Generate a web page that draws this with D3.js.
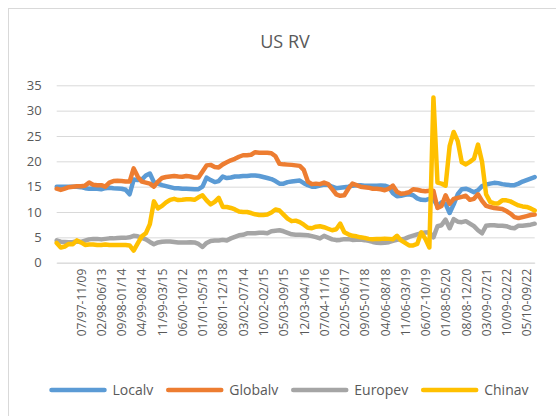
<!DOCTYPE html>
<html>
<head>
<meta charset="utf-8">
<script src="https://cdn.jsdelivr.net/npm/d3@7"></script>
<style>
  body { margin: 0; background: #fff; }
  svg { display: block; }
</style>
</head>
<body>
<svg id="chart"></svg>
<script>
// values, one per ~1.4 months
const localv = [
  15.0, 15.0, 15.0, 15.0, 15.0, 15.0, 14.9, 14.7, 14.6, 14.65,
  14.6, 14.5, 14.7, 14.8, 14.7, 14.65, 14.6, 14.4, 13.5, 16.4,
  16.3, 16.4, 17.2, 17.6, 15.9, 15.6, 15.3, 15.1, 14.9, 14.7,
  14.7, 14.6, 14.6, 14.55, 14.5, 14.5, 15.0, 16.8, 16.3, 15.9,
  16.1, 17.0, 16.7, 16.8, 17.0, 17.0, 17.1, 17.1, 17.2, 17.2,
  17.1, 16.9, 16.7, 16.5, 16.1, 15.6, 15.6, 15.9, 16.0, 16.1,
  16.2, 15.7, 15.3, 15.0, 15.0, 15.2, 15.4, 15.4, 15.0, 14.7,
  14.8, 14.9, 15.0, 15.2, 15.3, 15.3, 15.2, 15.2, 15.2, 15.2,
  15.25, 15.2, 14.9, 13.7, 13.1, 13.2, 13.4, 13.5, 13.3, 12.7,
  12.4, 12.35, 12.6, 12.5, 11.2, 11.9, 11.6, 9.8, 11.5, 13.5,
  14.5, 14.6, 14.3, 13.9, 14.3, 15.1, 15.4, 15.6, 15.75, 15.7,
  15.5, 15.4, 15.3, 15.3, 15.6, 16.0, 16.3, 16.6, 16.9
];
const globalv = [
  14.6, 14.35, 14.6, 14.9, 15.0, 15.1, 15.1, 15.2, 15.8, 15.4,
  15.3, 15.3, 15.0, 15.8, 16.1, 16.15, 16.1, 16.0, 16.0, 18.6,
  17.0, 16.0, 15.8, 15.6, 15.0, 16.0, 16.7, 16.9, 17.0, 17.1,
  17.0, 16.95, 17.1, 17.0, 16.8, 16.8, 18.0, 19.2, 19.3, 18.9,
  18.8, 19.4, 19.8, 20.2, 20.5, 20.9, 21.2, 21.2, 21.3, 21.8,
  21.7, 21.7, 21.7, 21.6, 21.0, 19.5, 19.4, 19.35, 19.3, 19.2,
  19.1, 18.3, 16.0, 15.5, 15.6, 15.5, 15.8, 15.5, 14.5, 13.5,
  13.2, 13.3, 14.6, 15.6, 15.3, 15.0, 14.9, 14.8, 14.6, 14.6,
  14.5, 14.3, 14.6, 15.2, 14.0, 13.6, 13.7, 13.9, 14.5, 14.4,
  14.2, 14.1, 14.2, 14.2, 10.8, 11.2, 13.3, 11.6, 12.6, 12.8,
  13.0, 13.2, 12.4, 12.6, 13.5, 12.2, 11.2, 11.0, 10.8, 10.7,
  10.6, 10.2, 9.7, 9.0, 8.8, 9.0, 9.2, 9.4, 9.5
];
const europev = [
  4.4, 4.15, 4.1, 4.05, 4.1, 4.2, 4.1, 4.35, 4.6, 4.7,
  4.7, 4.6, 4.7, 4.8, 4.8, 4.85, 4.9, 4.9, 5.0, 5.3,
  5.2, 4.9, 4.6, 4.1, 3.65, 4.0, 4.15, 4.2, 4.2, 4.1,
  4.0, 4.0, 4.0, 4.05, 4.0, 3.7, 3.1, 3.9, 4.3, 4.4,
  4.4, 4.5, 4.4, 4.8, 5.1, 5.4, 5.5, 5.8, 5.8, 5.8,
  5.9, 5.9, 5.8, 6.2, 6.3, 6.4, 6.2, 5.9, 5.6, 5.5,
  5.5, 5.45, 5.4, 5.25, 5.05, 4.8, 5.3, 4.95, 4.6, 4.45,
  4.5, 4.65, 4.65, 4.5, 4.55, 4.55, 4.45, 4.3, 4.1, 3.95,
  3.9, 3.95, 4.05, 4.3, 4.5, 4.6, 4.75, 5.1, 5.35, 5.6,
  5.8, 5.95, 6.0, 5.0, 7.2, 7.4, 8.5, 6.8, 8.6, 8.1,
  8.0, 8.2, 7.7, 7.2, 6.4, 5.8, 7.3, 7.4, 7.4, 7.3,
  7.3, 7.2, 6.9, 6.8, 7.3, 7.3, 7.4, 7.5, 7.7
];
const chinav = [
  3.9, 3.0, 3.2, 3.7, 3.65, 4.4, 4.0, 3.5, 3.6, 3.6,
  3.5, 3.5, 3.6, 3.5, 3.5, 3.5, 3.5, 3.5, 3.4, 2.4,
  3.8, 5.2, 5.8, 7.6, 12.1, 10.7, 11.2, 11.9, 12.4, 12.6,
  12.35, 12.4, 12.5, 12.5, 12.4, 12.9, 13.3, 12.3, 11.5, 12.0,
  12.8, 11.0, 11.0, 10.8, 10.5, 10.1, 10.0, 10.0, 9.8, 9.55,
  9.4, 9.4, 9.5, 9.9, 10.5, 10.3, 9.5, 8.7, 8.2, 8.3,
  8.0, 7.5, 6.9, 6.8, 7.1, 7.2, 7.0, 6.7, 6.4, 6.6,
  7.7, 6.0, 5.6, 5.3, 5.2, 5.0, 4.9, 4.7, 4.65, 4.7,
  4.7, 4.75, 4.7, 4.65, 5.3, 4.4, 3.9, 3.4, 3.4, 3.7,
  6.0, 4.7, 3.0, 32.6, 15.8, 15.6, 15.2, 23.0, 25.8, 24.0,
  19.8, 19.4, 19.9, 20.5, 23.3, 19.9, 13.5, 12.0, 11.7, 11.7,
  12.3, 12.3, 12.1, 11.7, 11.3, 11.1, 11.0, 10.7, 10.3
];

const seriesNames = ["Localv", "Globalv", "Europev", "Chinav"];
const xLabels = [
  "07/97-11/09", "02/98-06/13", "09/98-01/14", "04/99-08/14", "11/99-03/15",
  "06/00-10/12", "01/01-05/13", "08/01-12/13", "03/02-07/14", "10/02-02/15",
  "05/03-09/15", "12/03-04/16", "07/04-11/16", "02/05-06/17", "09/05-01/18",
  "04/06-08/18", "11/06-03/19", "06/07-10/19", "01/08-05/20", "08/08-12/20",
  "03/09-07/21", "10/09-02/22", "05/10-09/22"
];
const yTicks = [0, 5, 10, 15, 20, 25, 30, 35];

const width = 556, height = 416;
const plot = { left: 56.7, right: 534.7, top: 85.3, bottom: 262.7 };
const font = '"Open Sans", sans-serif';
const textColor = "#595959";
const gridColor = "#d9d9d9";
const color = d3.scaleOrdinal(seriesNames, ["#5b9bd5", "#ed7d31", "#a5a5a5", "#ffc000"]);

// first label sits on point 6, then every 5th point
const labelIdx = xLabels.map((_, k) => 6 + k * 5);

const svg = d3.select("#chart")
    .attr("width", width)
    .attr("height", height)
    .attr("font-family", font);

svg.append("rect")
    .attr("x", 8.5).attr("y", 8.5)
    .attr("width", 570).attr("height", 430)
    .attr("fill", "#fff")
    .attr("stroke", gridColor);

svg.append("text")
    .attr("x", 285).attr("y", 48)
    .attr("text-anchor", "middle")
    .attr("font-size", 18)
    .attr("fill", textColor)
    .text("US RV");

const x = d3.scaleLinear().domain([0, localv.length - 1]).range([plot.left, plot.right]);
const y = d3.scaleLinear().domain([0, 35]).range([plot.bottom, plot.top]);

const yAxis = svg.append("g")
    .attr("transform", `translate(${plot.left},0)`)
    .call(d3.axisLeft(y).tickValues(yTicks).tickSize(-(plot.right - plot.left)).tickPadding(15));
yAxis.attr("font-family", font).attr("font-size", 13);
yAxis.select(".domain").remove();
yAxis.selectAll("line").attr("stroke", gridColor);
yAxis.selectAll("text").attr("fill", textColor);

const xAxis = svg.append("g")
    .attr("transform", `translate(0,${plot.bottom})`)
    .call(d3.axisBottom(x)
      .tickValues(labelIdx)
      .tickFormat(d => xLabels[labelIdx.indexOf(d)])
      .tickSize(0)
      .tickSizeOuter(0));
xAxis.attr("font-family", font).attr("font-size", 12);
xAxis.select(".domain").attr("stroke", gridColor);
xAxis.selectAll("text")
    .attr("fill", textColor)
    .attr("transform", "rotate(-90)")
    .attr("x", -6)
    .attr("y", 0)
    .attr("dy", "0.35em")
    .attr("text-anchor", "end");

const line = d3.line()
    .x((d, i) => x(i))
    .y(d => y(d));

const series = [localv, globalv, europev, chinav];

svg.append("g")
    .selectAll("path")
    .data(series)
    .join("path")
    .attr("fill", "none")
    .attr("stroke", (d, i) => color(seriesNames[i]))
    .attr("stroke-width", 4.5)
    .attr("stroke-linejoin", "round")
    .attr("stroke-linecap", "round")
    .attr("d", line);

// legend, laid out from the text widths and centred under the chart
const legend = svg.append("g")
    .attr("font-size", 14)
    .attr("fill", textColor);

const items = legend.selectAll("g")
    .data(seriesNames)
    .join("g");

items.append("line")
    .attr("x1", 0).attr("x2", 53)
    .attr("stroke", d => color(d))
    .attr("stroke-width", 4.5)
    .attr("stroke-linecap", "round");

items.append("text")
    .attr("x", 61)
    .attr("dy", "0.35em")
    .text(d => d);

let pos = 0;
items.each(function () {
  const w = 61 + this.querySelector("text").getComputedTextLength();
  d3.select(this).attr("transform", `translate(${pos},0)`);
  pos += w + 15;
});
const legendWidth = pos - 15;
legend.attr("transform", `translate(${290 - legendWidth / 2},390)`);
</script>
</body>
</html>
